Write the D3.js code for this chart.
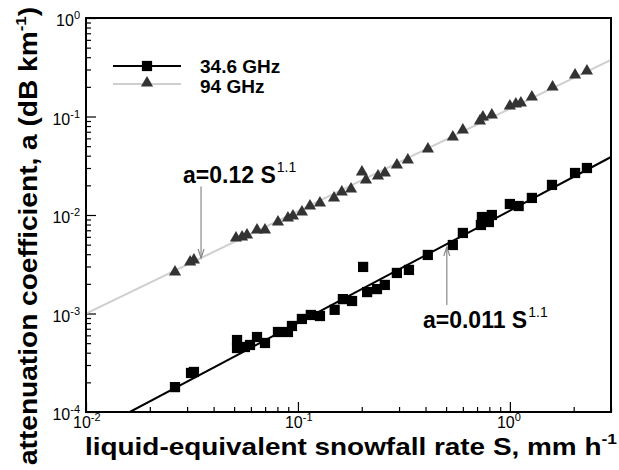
<!DOCTYPE html>
<html>
<head>
<meta charset="utf-8">
<script src="https://cdn.jsdelivr.net/npm/d3@7.9.0/dist/d3.min.js"></script>
<style>
  body { margin: 0; background: #fff; }
  svg { font-family: "Liberation Sans", Arial, Helvetica, sans-serif; }
</style>
</head>
<body>
<svg id="chart" width="619" height="470"></svg>
<script>
// === Data ===
// 34.6 GHz: snowfall rate S (mm/h) and attenuation a (dB/km)
const s34 = [0.0263, 0.0313, 0.0323, 0.0516, 0.0516, 0.0562, 0.0594, 0.0641, 0.0699, 0.0805,
  0.0897, 0.0937, 0.1044, 0.115, 0.127, 0.149, 0.163, 0.180, 0.203, 0.212,
  0.236, 0.257, 0.293, 0.334, 0.41, 0.538, 0.600, 0.730, 0.738, 0.822,
  0.796, 1.0, 1.10, 1.27, 1.58, 2.03, 2.31];
const a34 = [0.000179, 0.000249, 0.000255, 0.000538, 0.000446, 0.000457, 0.000479, 0.000577, 0.000502, 0.000649,
  0.000649, 0.000747, 0.00088, 0.000966, 0.000943, 0.00109, 0.0014, 0.00134, 0.00297, 0.00165,
  0.00177, 0.00195, 0.00258, 0.00277, 0.00393, 0.00496, 0.00657, 0.00792, 0.00954, 0.0100,
  0.00849, 0.01293, 0.01234, 0.0149, 0.0202, 0.0267, 0.0300];

// 94 GHz
const s94 = [0.0263, 0.0310, 0.0323, 0.0510, 0.0545, 0.0575, 0.0641, 0.0699, 0.0805, 0.0897,
  0.0947, 0.1044, 0.114, 0.127, 0.148, 0.161, 0.178, 0.2004, 0.2094, 0.2386,
  0.2573, 0.2931, 0.330, 0.4105, 0.538, 0.600, 0.722, 0.746, 0.822, 1.0,
  1.067, 1.127, 1.27, 1.59, 2.03, 2.31];
const a94 = [0.00264, 0.00333, 0.00349, 0.00584, 0.00598, 0.00627, 0.00704, 0.00704, 0.00849, 0.00933,
  0.00977, 0.01073, 0.01234, 0.01324, 0.0149, 0.0171, 0.01836, 0.0273, 0.0227, 0.0249,
  0.0267, 0.0322, 0.0362, 0.0468, 0.0619, 0.0729, 0.090, 0.0989, 0.1036, 0.128,
  0.134, 0.137, 0.158, 0.199, 0.264, 0.290];

// fitted power-law lines, end points
const fit34 = [[0.0161, 1e-4], [3, 0.0388]];
const fit94 = [[0.01, 0.001], [3, 0.375]];

const xDecades = [-2, -1, 0];
const yDecades = [-4, -3, -2, -1, 0];
const legendLabels = ["34.6 GHz", "94 GHz"];

// === Layout ===
const svg = d3.select('#chart');
const margin = { left: 86, top: 18, right: 8, bottom: 58 };
const W = 619, H = 470;
const x = d3.scaleLog().domain([0.01, 3]).range([margin.left, W - margin.right]);
const y = d3.scaleLog().domain([1e-4, 1]).range([H - margin.bottom, margin.top]);
const x0 = x.range()[0], x1 = x.range()[1];
const y0 = y.range()[0], y1 = y.range()[1];

// minor/major tick values
const xMinor = [], yMinor = [];
xDecades.forEach(d => { for (let m = 2; m <= 9; m++) { const v = m * 10 ** d; if (v <= 3) xMinor.push(v); } });
yDecades.slice(0, -1).forEach(d => { for (let m = 2; m <= 9; m++) yMinor.push(m * 10 ** d); });

svg.append('g')
  .attr('transform', `translate(0,${y0})`)
  .call(d3.axisBottom(x).tickValues(xMinor).tickSize(-5).tickFormat(''))
  .call(g => g.select('.domain').remove());
svg.append('g')
  .attr('transform', `translate(0,${y0})`)
  .call(d3.axisBottom(x).tickValues(xDecades.map(d => 10 ** d)).tickSize(-10).tickFormat(''))
  .call(g => g.select('.domain').remove());
svg.append('g')
  .attr('transform', `translate(${x0},0)`)
  .call(d3.axisLeft(y).tickValues(yMinor).tickSize(-5).tickFormat(''))
  .call(g => g.select('.domain').remove());
svg.append('g')
  .attr('transform', `translate(${x0},0)`)
  .call(d3.axisLeft(y).tickValues(yDecades.map(d => 10 ** d)).tickSize(-10).tickFormat(''))
  .call(g => g.select('.domain').remove());
svg.selectAll('.tick line').attr('stroke', '#000').attr('stroke-width', 1.2);

// tick labels (10 with superscript)
function powLabel(sel, exp) {
  sel.append('tspan').text('10');
  sel.append('tspan').attr('dy', -7).attr('font-size', 11).text(exp);
}
xDecades.forEach(d => {
  const t = svg.append('text')
    .attr('x', x(10 ** d) - 13).attr('y', y0 + 16)
    .attr('font-size', 16).attr('fill', '#000');
  powLabel(t, d);
});
yDecades.forEach(d => {
  const t = svg.append('text')
    .attr('x', x0 - 6).attr('y', y(10 ** d) + 8)
    .attr('text-anchor', 'end')
    .attr('font-size', 16).attr('fill', '#000');
  powLabel(t, d);
});

// clip for lines
svg.append('clipPath').attr('id', 'clip')
  .append('rect').attr('x', x0).attr('y', y1).attr('width', x1 - x0).attr('height', y0 - y1);

const line = d3.line().x(d => x(d[0])).y(d => y(d[1]));
svg.append('path').datum(fit94).attr('d', line)
  .attr('clip-path', 'url(#clip)')
  .attr('fill', 'none').attr('stroke', '#cfcfcf').attr('stroke-width', 2);
svg.append('path').datum(fit34).attr('d', line)
  .attr('clip-path', 'url(#clip)')
  .attr('fill', 'none').attr('stroke', '#000').attr('stroke-width', 2);

// markers
const tri = d3.symbol().type(d3.symbolTriangle).size(64);
const sq = d3.symbol().type(d3.symbolSquare).size(105);
svg.append('g').selectAll('path').data(d3.zip(s94, a94)).join('path')
  .attr('d', tri)
  .attr('transform', d => `translate(${x(d[0])},${y(d[1])})`)
  .attr('fill', '#333');
svg.append('g').selectAll('path').data(d3.zip(s34, a34)).join('path')
  .attr('d', sq)
  .attr('transform', d => `translate(${x(d[0])},${y(d[1])})`)
  .attr('fill', '#000');

// frame
svg.append('rect')
  .attr('x', x0).attr('y', y1).attr('width', x1 - x0).attr('height', y0 - y1)
  .attr('fill', 'none').attr('stroke', '#000').attr('stroke-width', 2);

// legend
const legend = svg.append('g').attr('transform', 'translate(113,66)');
legend.append('line').attr('x1', 0).attr('x2', 68).attr('y1', 0).attr('y2', 0)
  .attr('stroke', '#000').attr('stroke-width', 2);
legend.append('path').attr('d', sq).attr('transform', 'translate(34,0)').attr('fill', '#000');
legend.append('line').attr('x1', 0).attr('x2', 68).attr('y1', 18).attr('y2', 18)
  .attr('stroke', '#cfcfcf').attr('stroke-width', 2);
legend.append('path').attr('d', tri).attr('transform', 'translate(34,17)').attr('fill', '#333');
legendLabels.forEach((lab, i) => {
  legend.append('text').attr('x', 87).attr('y', 7 + i * 20)
    .attr('font-size', 19).attr('font-weight', 'bold').text(lab);
});

// annotations with arrows
function annotate(label, tx, ty, ax, ayFrom, ayTo) {
  const t = svg.append('text').attr('x', x(tx)).attr('y', y(ty))
    .attr('font-size', 23).attr('font-weight', 'bold');
  t.append('tspan').text(label);
  t.append('tspan').attr('dx', 1).attr('dy', -11).attr('font-size', 14).attr('font-weight', 'normal').text('1.1');
  const px = x(ax), py0 = y(ayFrom), py1 = y(ayTo);
  svg.append('line').attr('x1', px).attr('x2', px).attr('y1', py0).attr('y2', py1)
    .attr('stroke', '#888').attr('stroke-width', 1.2);
  const dir = py1 > py0 ? -1 : 1;
  svg.append('path')
    .attr('d', `M${px - 3},${py1 + dir * 9}L${px},${py1}L${px + 3},${py1 + dir * 9}`)
    .attr('fill', 'none').attr('stroke', '#888').attr('stroke-width', 1.2);
}
annotate('a=0.12 S', 0.0287, 0.0212, 0.0349, 0.0195, 0.00366);
annotate('a=0.011 S', 0.389, 0.000713, 0.504, 0.00122, 0.00473);

// axis titles
const xt = svg.append('text').attr('x', 85).attr('y', 455)
  .attr('font-size', 24).attr('font-weight', 'bold')
  .attr('textLength', 532).attr('lengthAdjust', 'spacingAndGlyphs');
xt.append('tspan').text('liquid-equivalent snowfall rate S, mm h');
xt.append('tspan').attr('dy', -11).attr('font-size', 15).text('-1');

const yt = svg.append('text')
  .attr('transform', 'translate(37,236) rotate(-90)')
  .attr('text-anchor', 'middle')
  .attr('font-size', 25).attr('font-weight', 'bold')
  .attr('textLength', 458).attr('lengthAdjust', 'spacingAndGlyphs');
yt.append('tspan').text('attenuation coefficient, a (dB km');
yt.append('tspan').attr('dy', -11).attr('font-size', 15).text('-1');
yt.append('tspan').attr('dy', 11).text(')');
</script>
</body>
</html>
